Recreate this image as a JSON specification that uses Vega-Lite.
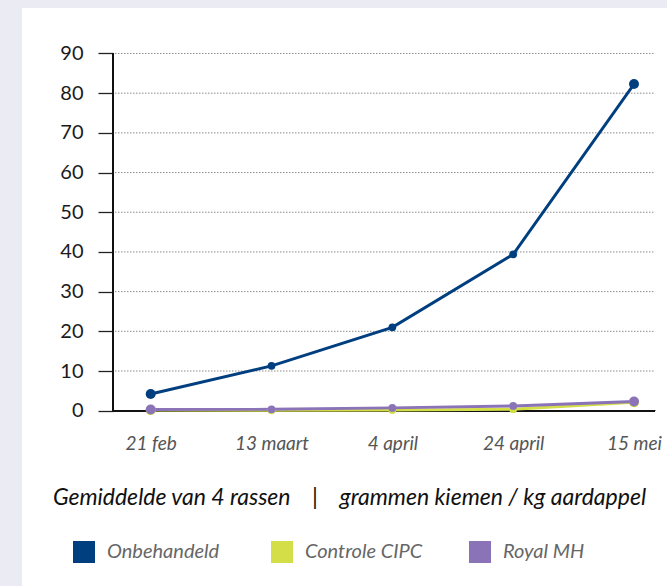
{
  "$schema": "https://vega.github.io/schema/vega-lite/v6.json",
  "width": 645,
  "height": 578,
  "autosize": {"type": "none"},
  "padding": {"left": 22, "top": 8, "right": 0, "bottom": 0},
  "background": "#ebebf4",
  "view": {"fill": "white", "stroke": null},
  "config": {"font": "Lato"},
  "datasets": {
    "metingen": [
      {"datum": "21 feb", "meting": 1, "behandeling": "Onbehandeld", "gram": 4.2},
      {"datum": "13 maart", "meting": 2, "behandeling": "Onbehandeld", "gram": 11.3},
      {"datum": "4 april", "meting": 3, "behandeling": "Onbehandeld", "gram": 21.0},
      {"datum": "24 april", "meting": 4, "behandeling": "Onbehandeld", "gram": 39.4},
      {"datum": "15 mei", "meting": 5, "behandeling": "Onbehandeld", "gram": 82.3},
      {"datum": "21 feb", "meting": 1, "behandeling": "Controle CIPC", "gram": 0.15},
      {"datum": "13 maart", "meting": 2, "behandeling": "Controle CIPC", "gram": 0.1},
      {"datum": "4 april", "meting": 3, "behandeling": "Controle CIPC", "gram": 0.15},
      {"datum": "24 april", "meting": 4, "behandeling": "Controle CIPC", "gram": 0.35},
      {"datum": "15 mei", "meting": 5, "behandeling": "Controle CIPC", "gram": 2.1},
      {"datum": "21 feb", "meting": 1, "behandeling": "Royal MH", "gram": 0.3},
      {"datum": "13 maart", "meting": 2, "behandeling": "Royal MH", "gram": 0.35},
      {"datum": "4 april", "meting": 3, "behandeling": "Royal MH", "gram": 0.7},
      {"datum": "24 april", "meting": 4, "behandeling": "Royal MH", "gram": 1.2},
      {"datum": "15 mei", "meting": 5, "behandeling": "Royal MH", "gram": 2.3}
    ],
    "raster": [{"g": 10}, {"g": 20}, {"g": 30}, {"g": 40}, {"g": 50}, {"g": 60}, {"g": 70}, {"g": 80}, {"g": 90}]
  },
  "data": {"name": "metingen"},
  "layer": [
    {
      "data": {"name": "raster"},
      "mark": {"type": "rule", "color": "#8c8c8c", "strokeWidth": 1, "strokeDash": [1.5, 1.5]},
      "encoding": {
        "y": {"field": "g", "type": "quantitative", "scale": {"domain": [-44.17, 101.46], "nice": false, "zero": false}},
        "x": {"datum": 0.7045, "type": "quantitative", "scale": {"domain": [-0.065, 5.273], "nice": false, "zero": false}},
        "x2": {"datum": 5.174}
      }
    },
    {
      "mark": {"type": "rule", "color": "#111111", "strokeWidth": 1.3},
      "encoding": {
        "y": {"datum": 0, "type": "quantitative"},
        "x": {"datum": 0.688, "type": "quantitative"},
        "x2": {"datum": 5.174}
      }
    },
    {
      "mark": {"type": "rule", "color": "#111111", "strokeWidth": 1.3},
      "encoding": {
        "x": {"datum": 0.688, "type": "quantitative"},
        "y": {"datum": 0, "type": "quantitative"},
        "y2": {"datum": 90}
      }
    },
    {
      "encoding": {
        "x": {
          "field": "meting",
          "type": "quantitative",
          "scale": {"domain": [-0.065, 5.273], "nice": false, "zero": false},
          "axis": {
            "orient": "bottom",
            "offset": -175.3,
            "values": [1, 2, 3, 4, 5],
            "labelExpr": "['','21 feb','13 maart','4 april','24 april','15 mei'][datum.value]",
            "domain": false,
            "ticks": false,
            "grid": false,
            "labelFont": "Lato",
            "labelFontStyle": "italic",
            "labelFontSize": 19,
            "labelColor": "#555555",
            "labelPadding": 24,
            "labelOverlap": false,
            "title": "Gemiddelde van 4 rassen\u00a0\u00a0\u00a0\u00a0|\u00a0\u00a0\u00a0\u00a0grammen kiemen / kg aardappel",
            "titleFont": "Lato",
            "titleFontStyle": "italic",
            "titleFontWeight": "normal",
            "titleFontSize": 23,
            "titleColor": "#111111",
            "titlePadding": 33,
            "titleX": 327
          }
        },
        "y": {
          "field": "gram",
          "type": "quantitative",
          "scale": {"domain": [-44.17, 101.46], "nice": false, "zero": false},
          "axis": {
            "orient": "left",
            "offset": -91,
            "values": [0, 10, 20, 30, 40, 50, 60, 70, 80, 90],
            "domain": false,
            "grid": false,
            "ticks": true,
            "tickSize": 15,
            "tickColor": "#222222",
            "tickWidth": 1.3,
            "labelFont": "Lato",
            "labelFontSize": 20,
            "labelColor": "#1a1a1a",
            "labelPadding": 15,
            "title": null
          }
        },
        "color": {
          "field": "behandeling",
          "type": "nominal",
          "scale": {"domain": ["Onbehandeld", "Controle CIPC", "Royal MH"], "range": ["#003f7f", "#d4df48", "#8b73b7"]},
          "legend": {
            "orient": "none",
            "legendX": 51,
            "legendY": 533,
            "direction": "horizontal",
            "columns": 3,
            "gridAlign": "all",
            "columnPadding": 46,
            "title": null,
            "symbolType": "square",
            "symbolSize": 484,
            "symbolStrokeWidth": 0,
            "symbolOpacity": 1,
            "labelFont": "Lato",
            "labelFontStyle": "italic",
            "labelFontSize": 20,
            "labelColor": "#666666",
            "labelOffset": 12,
            "labelLimit": 300
          }
        }
      },
      "layer": [
        {
          "mark": {"type": "line", "strokeWidth": 2.9},
          "encoding": {"order": {"field": "meting"}}
        },
        {
          "mark": {"type": "point", "filled": true, "opacity": 1},
          "encoding": {
            "size": {
              "condition": {"test": "datum.meting == 1 || datum.meting == 5", "value": 100},
              "value": 60
            }
          }
        }
      ]
    }
  ]
}
